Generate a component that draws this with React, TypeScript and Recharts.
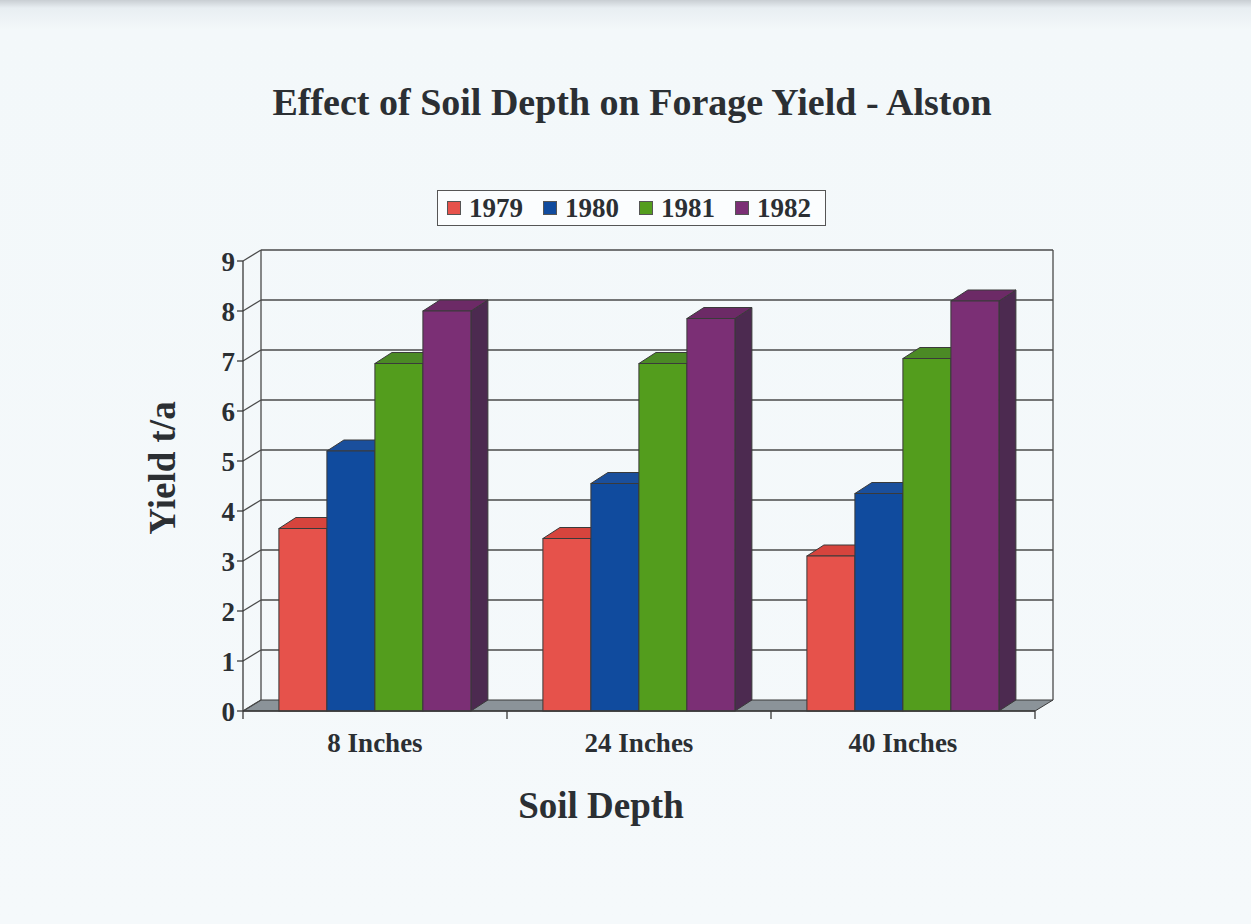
import { BarChart, Bar, XAxis, YAxis } from 'recharts'

// values (yield, tons per acre)
const CATEGORIES = ['8 Inches', '24 Inches', '40 Inches']
const YEARS = ['1979', '1980', '1981', '1982']
const Y1979 = [3.65, 3.45, 3.1]
const Y1980 = [5.2, 4.55, 4.35]
const Y1981 = [6.95, 6.95, 7.05]
const Y1982 = [8.0, 7.85, 8.2]
const Y_TICKS = [0, 1, 2, 3, 4, 5, 6, 7, 8, 9]
const Y_MAX = 9

const SERIES = [Y1979, Y1980, Y1981, Y1982]

const data = CATEGORIES.map((depth, i) => {
  const row: Record<string, string | number> = { depth }
  YEARS.forEach((yr, s) => {
    row[yr] = SERIES[s][i]
  })
  return row
})

const COLORS: Record<string, { front: string; top: string; side: string }> = {
  '1979': { front: '#e6524b', top: '#d6443d', side: '#9c2f2a' },
  '1980': { front: '#104b9e', top: '#1a4f9c', side: '#0b326a' },
  '1981': { front: '#539d1d', top: '#4b8a25', side: '#356a14' },
  '1982': { front: '#7b2f75', top: '#6c2a66', side: '#4c2a50' },
}

const W = 1251
const H = 924
const MARGIN = { top: 261, right: 216, bottom: 183, left: 203 }
const Y_AXIS_W = 40
const X_AXIS_H = 30
const PLOT_L = MARGIN.left + Y_AXIS_W
const PLOT_R = W - MARGIN.right
const PLOT_T = MARGIN.top
const PLOT_B = H - MARGIN.bottom - X_AXIS_H
const DX = 17
const DY = 11

const FONT = '"Liberation Serif", "Times New Roman", serif'
const INK = '#2b2f33'
const EDGE = '#3a3a3a'

const yPix = (v: number) => PLOT_B - (v / Y_MAX) * (PLOT_B - PLOT_T)

function Bar3D(props: any) {
  const { x, y, width, height, dataKey } = props
  if (width == null || height == null) return null
  const c = COLORS[dataKey as string]
  const r = x + width
  const b = y + height
  return (
    <g>
      <polygon
        points={`${r},${y} ${r + DX},${y - DY} ${r + DX},${b - DY} ${r},${b}`}
        fill={c.side}
        stroke={EDGE}
        strokeWidth={1}
      />
      <polygon
        points={`${x},${y} ${x + DX},${y - DY} ${r + DX},${y - DY} ${r},${y}`}
        fill={c.top}
        stroke={EDGE}
        strokeWidth={1}
      />
      <rect x={x} y={y} width={width} height={height} fill={c.front} stroke={EDGE} strokeWidth={1} />
    </g>
  )
}

function XTick({ x, y, payload }: any) {
  return (
    <text x={x} y={y} dy={33} textAnchor="middle" fill={INK} fontFamily={FONT} fontWeight="bold" fontSize={27}>
      {payload.value}
    </text>
  )
}

// back wall, floor and the little connectors drawn behind the bars
function Frame() {
  const bandW = (PLOT_R - PLOT_L) / CATEGORIES.length
  return (
    <svg width={W} height={H} style={{ position: 'absolute', left: 0, top: 0 }}>
      <polygon
        points={`${PLOT_L},${PLOT_B} ${PLOT_R},${PLOT_B} ${PLOT_R + DX + 1},${PLOT_B - DY} ${PLOT_L + DX + 1},${PLOT_B - DY}`}
        fill="#8b9399"
        stroke={EDGE}
        strokeWidth={1}
      />
      {Y_TICKS.map((t) => {
        const yy = yPix(t)
        return (
          <g key={t} stroke="#4a4a4a" strokeWidth={1.3} fill="none">
            <line x1={PLOT_L} y1={yy} x2={PLOT_L + DX + 1} y2={yy - DY} />
            {t > 0 && <line x1={PLOT_L + DX + 1} y1={yy - DY} x2={PLOT_R + DX + 1} y2={yy - DY} />}
          </g>
        )
      })}
      <line x1={PLOT_L + DX + 1} y1={yPix(Y_MAX) - DY} x2={PLOT_L + DX + 1} y2={PLOT_B - DY} stroke="#4a4a4a" strokeWidth={1.3} />
      <line x1={PLOT_R + DX + 1} y1={yPix(Y_MAX) - DY} x2={PLOT_R + DX + 1} y2={PLOT_B - DY} stroke="#4a4a4a" strokeWidth={1.3} />
      {CATEGORIES.map((_, i) => i).concat([CATEGORIES.length]).map((i) => (
        <line
          key={i}
          x1={PLOT_L + i * bandW}
          y1={PLOT_B}
          x2={PLOT_L + i * bandW}
          y2={PLOT_B + 8}
          stroke="#3a3a3a"
          strokeWidth={1.3}
        />
      ))}
      <text x={632} y={115} textAnchor="middle" fill={INK} fontFamily={FONT} fontWeight="bold" fontSize={38}>
        Effect of Soil Depth on Forage Yield - Alston
      </text>
      <text x={601} y={818} textAnchor="middle" fill={INK} fontFamily={FONT} fontWeight="bold" fontSize={37}>
        Soil Depth
      </text>
      <text
        x={0}
        y={0}
        transform="translate(175,468) rotate(-90)"
        textAnchor="middle"
        fill={INK}
        fontFamily={FONT}
        fontWeight="bold"
        fontSize={37}
      >
        Yield t/a
      </text>
    </svg>
  )
}

function LegendBox() {
  return (
    <div
      style={{
        position: 'absolute',
        left: 437,
        top: 190,
        width: 389,
        height: 36,
        boxSizing: 'border-box',
        border: '1px solid #555',
        background: '#fbfdfe',
        display: 'flex',
        alignItems: 'center',
        paddingLeft: 9,
        gap: 20,
        fontFamily: FONT,
        fontWeight: 'bold',
        fontSize: 27,
        color: INK,
      }}
    >
      {YEARS.map((yr) => (
        <div key={yr} style={{ display: 'flex', alignItems: 'center' }}>
          <span
            style={{
              display: 'inline-block',
              width: 14,
              height: 14,
              boxSizing: 'border-box',
              background: COLORS[yr].front,
              border: '1px solid #555',
              marginRight: 8,
            }}
          />
          <span style={{ lineHeight: 1 }}>{yr}</span>
        </div>
      ))}
    </div>
  )
}

export default function App() {
  return (
    <div
      style={{
        position: 'absolute',
        left: 0,
        top: 0,
        width: W,
        height: H,
        overflow: 'hidden',
        background: 'linear-gradient(180deg, #c9ced3 0px, #e8eef2 8px, #f3f8fa 30px, #f5f9fb 100%)',
      }}
    >
      <Frame />
      <div style={{ position: 'absolute', left: 0, top: 0 }}>
        <BarChart width={W} height={H} data={data} margin={MARGIN} barCategoryGap="13.6%" barGap={0}>
          <XAxis
            dataKey="depth"
            height={X_AXIS_H}
            axisLine={{ stroke: '#3a3a3a', strokeWidth: 1.3 }}
            tickLine={false}
            tick={<XTick />}
            interval={0}
          />
          <YAxis
            width={Y_AXIS_W}
            domain={[0, Y_MAX]}
            ticks={Y_TICKS}
            interval={0}
            axisLine={{ stroke: '#3a3a3a', strokeWidth: 1.3 }}
            tickLine={{ stroke: '#3a3a3a', strokeWidth: 1.3 }}
            tickSize={6}
            tick={{ fill: INK, fontFamily: FONT, fontWeight: 'bold', fontSize: 27 }}
          />
          {YEARS.map((yr) => (
            <Bar key={yr} dataKey={yr} fill={COLORS[yr].front} shape={<Bar3D />} isAnimationActive={false} />
          ))}
        </BarChart>
      </div>
      <LegendBox />
    </div>
  )
}
